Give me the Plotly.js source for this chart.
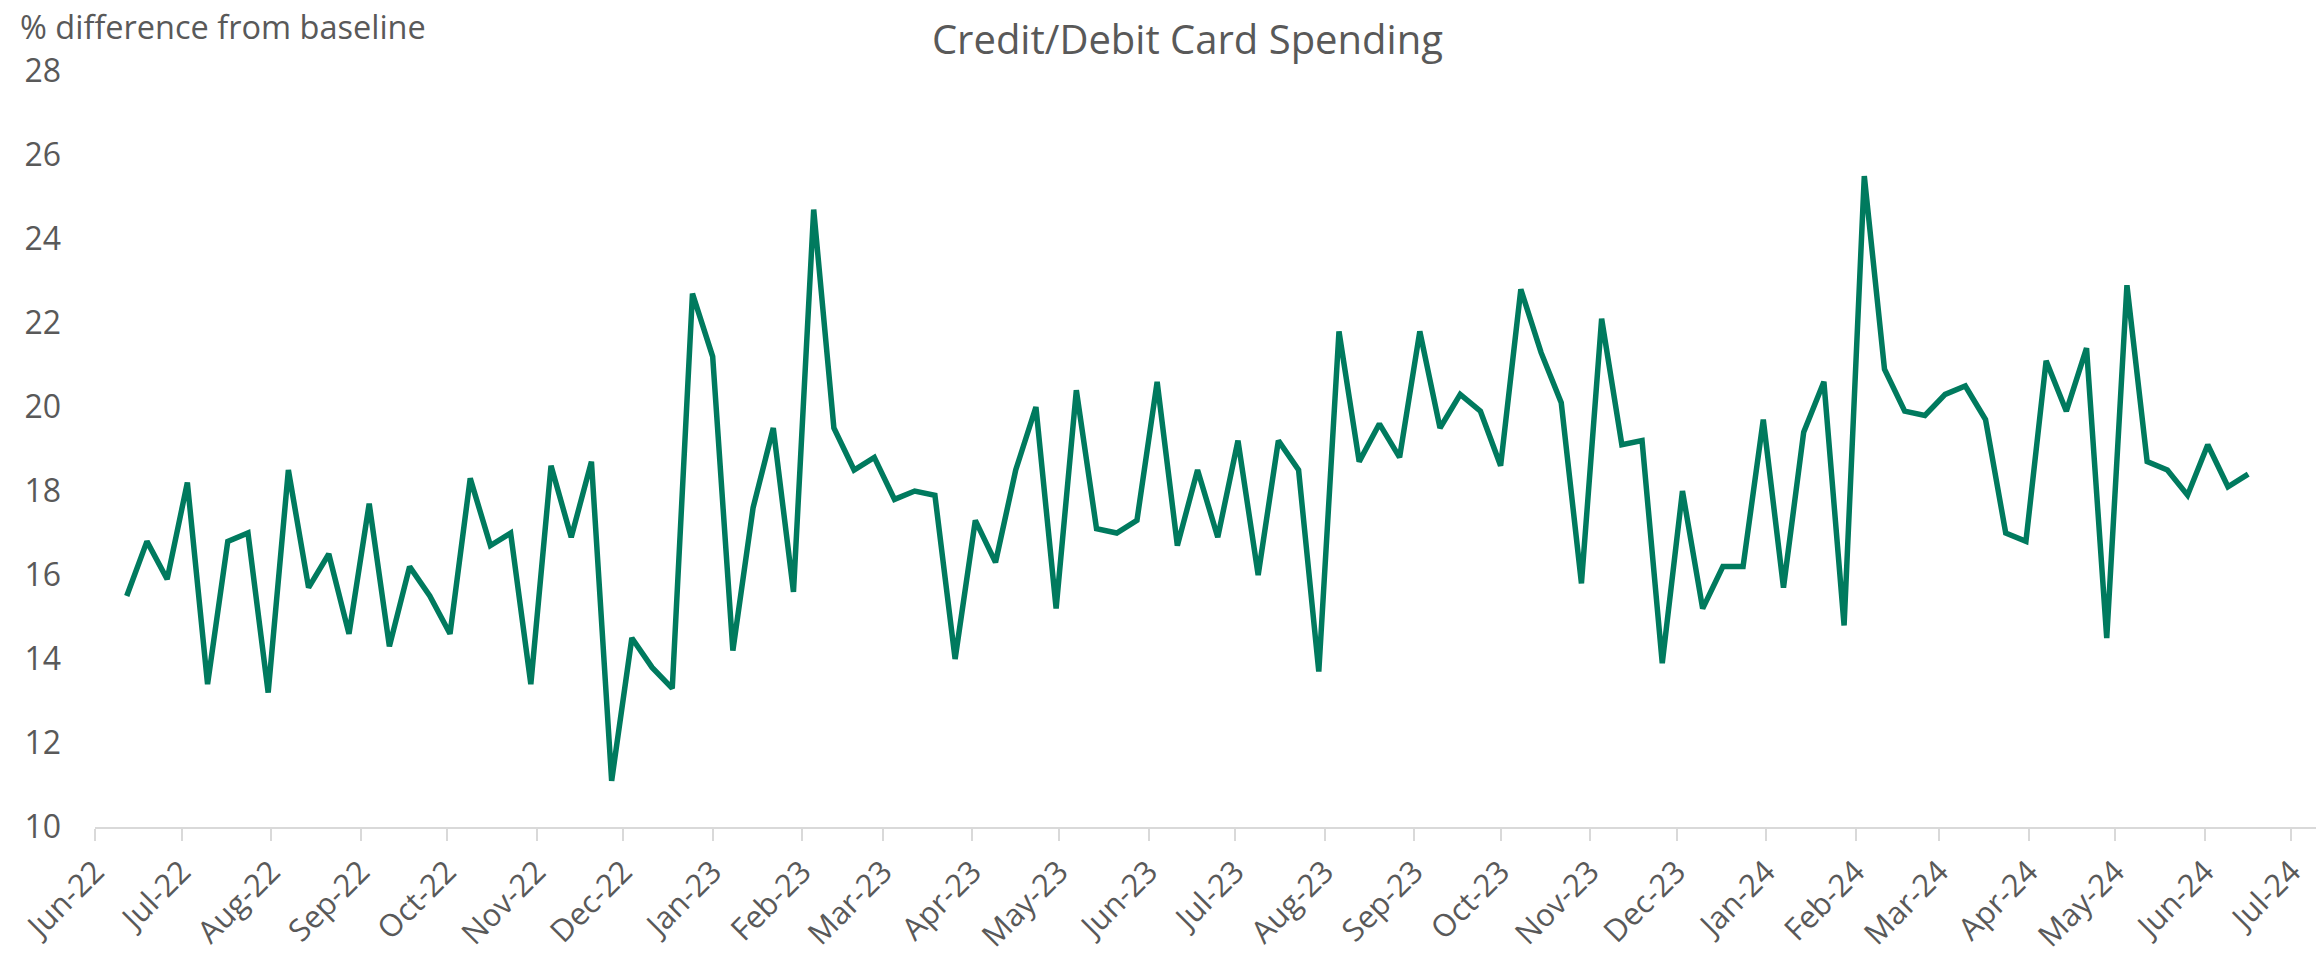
<!DOCTYPE html>
<html>
<head>
<meta charset="utf-8">
<script src="https://cdn.plot.ly/plotly-3.0.1.min.js"></script>
<style>
  html, body { margin: 0; padding: 0; background: #ffffff; }
  #chart { width: 2316px; height: 959px; }
</style>
</head>
<body>
<div id="chart"></div>
<script>
const TITLE = 'Credit/Debit Card Spending';
const Y_LABEL = '% difference from baseline';
const FIRST_WEEK = '2022-06-12';   // weekly observations (Sundays)

// % difference from baseline, weekly, Jun-22 .. Dec-22
const spend2022 = [15.5, 16.8, 15.9, 18.2, 13.4, 16.8, 17.0, 13.2, 18.5, 15.7,
                   16.5, 14.6, 17.7, 14.3, 16.2, 15.5, 14.6, 18.3, 16.7, 17.0,
                   13.4, 18.6, 16.9, 18.7, 11.1, 14.5, 13.8, 13.3, 22.7];
// Jan-23 .. Dec-23
const spend2023 = [21.2, 14.2, 17.6, 19.5, 15.6, 24.7, 19.5, 18.5, 18.8, 17.8,
                   18.0, 17.9, 14.0, 17.3, 16.3, 18.5, 20.0, 15.2, 20.4, 17.1,
                   17.0, 17.3, 20.6, 16.7, 18.5, 16.9, 19.2, 16.0, 19.2, 18.5,
                   13.7, 21.8, 18.7, 19.6, 18.8, 21.8, 19.5, 20.3, 19.9, 18.6,
                   22.8, 21.3, 20.1, 15.8, 22.1, 19.1, 19.2, 13.9, 18.0, 15.2,
                   16.2, 16.2, 19.7];
// Jan-24 .. Jun-24
const spend2024 = [15.7, 19.4, 20.6, 14.8, 25.5, 20.9, 19.9, 19.8, 20.3, 20.5,
                   19.7, 17.0, 16.8, 21.1, 19.9, 21.4, 14.5, 22.9, 18.7, 18.5,
                   17.9, 19.1, 18.1, 18.4];

const values = spend2022.concat(spend2023, spend2024);
const weeks = values.map((_, i) => {
  const d = new Date(FIRST_WEEK + 'T00:00:00Z');
  d.setUTCDate(d.getUTCDate() + 7 * i);
  return d.toISOString().slice(0, 10);
});

const TEXT = '#595959';
const AXIS = '#D9D9D9';
const LINE = '#007A5E';
const FONT = '"Open Sans", "Noto Sans", sans-serif';

const trace = {
  type: 'scatter',
  mode: 'lines',
  x: weeks,
  y: values,
  line: { color: LINE, width: 5.5 },
  hoverinfo: 'x+y'
};

const layout = {
  width: 2316,
  height: 959,
  paper_bgcolor: '#ffffff',
  plot_bgcolor: '#ffffff',
  font: { family: FONT, color: TEXT, size: 31 },
  showlegend: false,
  margin: { l: 95, r: 0, t: 71, b: 132 },
  title: {
    text: TITLE,
    font: { family: FONT, size: 40, color: TEXT },
    x: 0.5127, xref: 'container', xanchor: 'center',
    y: 0.958, yref: 'container', yanchor: 'middle'
  },
  xaxis: {
    type: 'date',
    range: ['2022-06-01', '2024-07-09 12:00'],
    tick0: '2022-06-01',
    dtick: 'M1',
    tickformat: '%b-%y',
    tickangle: -45,
    ticks: 'outside',
    ticklen: 12,
    tickwidth: 2,
    tickcolor: AXIS,
    showline: true,
    linecolor: AXIS,
    linewidth: 2,
    showgrid: false,
    zeroline: false,
    tickfont: { family: FONT, size: 31, color: TEXT },
    fixedrange: true
  },
  yaxis: {
    range: [10, 28],
    tick0: 10,
    dtick: 2,
    ticks: '',
    showline: false,
    showgrid: false,
    zeroline: false,
    ticklabelstandoff: 33,
    tickfont: { family: FONT, size: 32, color: TEXT },
    fixedrange: true
  },
  annotations: [{
    text: Y_LABEL,
    xref: 'paper', yref: 'paper',
    x: -0.0347, y: 1.0595,
    xanchor: 'left', yanchor: 'middle',
    showarrow: false,
    font: { family: FONT, size: 32.5, color: TEXT }
  }]
};

Plotly.newPlot('chart', [trace], layout, { displayModeBar: false, staticPlot: true });
</script>
</body>
</html>
